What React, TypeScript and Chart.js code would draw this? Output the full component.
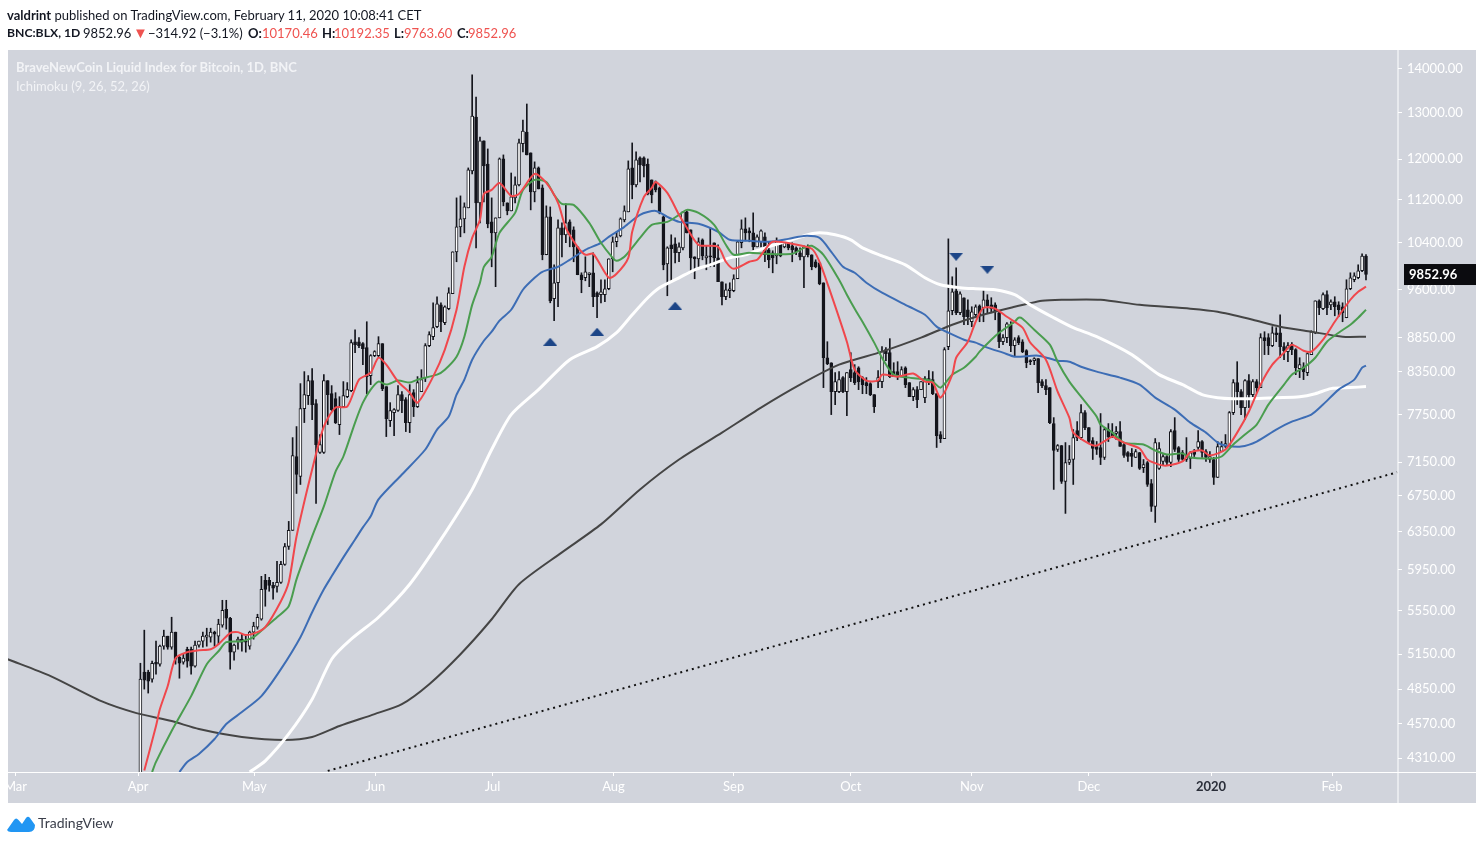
import React, { useEffect, useRef } from "react";
import { Chart, registerables } from "chart.js";

Chart.register(...registerables);

// daily candles, index 0 = 2 Apr 2019
const opens = [
  4150,4993,4993,4934,5079,5062,5220,5310,5211,5347,
  5122,5080,5193,5193,5045,5229,5265,5301,5301,5347,
  5310,5411,5560,5475,5167,5265,5283,5265,5220,5347,
  5392,5466,5842,5842,5792,5782,5822,6004,6190,6362,
  7219,6976,7835,8010,8219,7902,7269,7269,8219,8037,
  7969,7624,7862,7996,8079,8784,8784,8755,8695,8289,
  8577,8577,8755,8135,7676,7782,7809,8024,7956,7650,
  8051,7862,8065,8261,8725,8860,9013,9355,9074,9293,
  9535,10243,10690,10836,11042,11762,12898,11137,12380,11902,
  10781,10580,10855,12005,11137,10985,11232,11484,12320,12570,
  12130,11347,11822,11425,10191,10873,9453,9715,10672,10545,
  10781,10635,10331,9849,9798,9849,9882,9551,9519,9519,
  9616,10121,10420,10525,10818,10967,11822,11484,12026,12026,
  11902,11582,11542,11425,10873,10035,10366,10384,10226,10313,
  10967,10635,10156,10121,10455,10138,10173,10402,10138,9732,
  9486,9583,9583,9782,10402,10653,10617,10580,10331,10420,
  10508,10278,10226,10173,10402,10331,10384,10349,10313,10226,
  10156,10331,10191,10070,10052,9715,8547,8474,8065,8065,
  8261,8065,8374,8332,8402,8261,8191,8177,8024,8205,
  8205,8665,8621,8346,8346,8275,8402,8191,7996,8093,
  8093,7983,8247,8233,8037,7495,7444,8710,9261,9583,
  9229,9470,9277,9089,9198,9339,9309,9437,9355,9355,
  9229,8784,8845,9043,8725,8845,8784,8650,8504,8504,
  8533,8205,8149,8121,7637,7306,7356,6918,7145,7182,
  7546,7456,7782,7585,7418,7343,7331,7207,7559,7520,
  7508,7533,7368,7269,7257,7207,7269,7084,7145,6894,
  6629,7072,7158,7219,7145,7546,7331,7269,7182,7194,
  7281,7331,7406,7281,7182,7182,6964,7281,7343,7343,
  7782,8191,8065,7849,8219,8024,8205,8121,8845,8845,
  8725,8920,8920,8710,8636,8740,8665,8388,8416,8332,
  8592,8920,9420,9293,9519,9355,9405,9355,9325,9151,
  9616,9765,9798,9916,10170.46,
];
const highs = [
  5070,5365,5010,5088,5265,5229,5365,5310,5485,5347,
  5130,5149,5211,5211,5265,5265,5347,5383,5383,5356,
  5466,5646,5646,5485,5238,5301,5329,5310,5356,5438,
  5513,5882,5902,5872,5822,6035,6035,6222,6461,7456,
  7598,8177,8346,8290,8388,7956,7495,8303,8219,8149,
  8051,7996,8205,8191,8814,8966,8845,8770,9089,8592,
  8650,8860,8755,8135,7915,7835,8149,8065,7983,8163,
  8093,8275,8374,8755,8935,9388,9486,9388,9339,9633,
  10243,11232,11270,11137,11822,13860,13345,12463,12380,12212,
  11232,10855,12026,12088,11137,11720,11642,12422,12831,13187,
  12130,11945,11842,11484,11080,11060,10018,10818,10763,11118,
  10818,10690,10331,9882,10156,9882,10226,9567,9765,9765,
  10121,10508,10600,10855,11080,11965,12338,12150,12046,12046,
  12005,11582,11562,11444,10892,10331,10545,10490,10402,10967,
  10985,10635,10156,10490,10472,10349,10672,10402,10366,9732,
  9699,9715,9849,10437,10818,10855,10672,10948,10545,10635,
  10580,10420,10261,10490,10437,10402,10402,10402,10331,10313,
  10349,10366,10191,10104,10052,9715,8784,8474,8332,8346,
  8275,8332,8621,8446,8416,8275,8261,8191,8024,8360,
  8710,8695,8830,8474,8489,8416,8416,8191,8121,8135,
  8205,8275,8360,8346,8037,7533,8695,10472,9815,9967,
  9567,9470,9437,9325,9355,9355,9583,9519,9470,9388,
  9261,8890,9074,9089,8845,8875,8814,8665,8518,8547,
  8533,8233,8233,8121,7715,7368,7356,7393,7356,7559,
  7663,7889,7809,7585,7456,7406,7769,7585,7637,7637,
  7598,7663,7393,7281,7318,7306,7269,7182,7158,6941,
  7444,7393,7244,7231,7559,7715,7343,7294,7456,7281,
  7306,7546,7418,7306,7281,7207,7406,7406,7495,7796,
  8233,8489,8093,8233,8303,8233,8233,8905,8935,8905,
  9013,8997,9198,8770,8770,8770,8680,8547,8474,8621,
  8950,9420,9437,9551,9583,9437,9486,9405,9388,9765,
  9882,9882,10018,10208,10192.35,
];
const lows = [
  4120,4851,4818,4909,4976,5045,5193,5193,5193,5062,
  4942,5062,5036,4976,5036,5211,5211,5220,5256,5220,
  5238,5392,5374,5019,5096,5193,5175,5167,5193,5283,
  5374,5457,5589,5734,5656,5724,5812,5994,6159,6362,
  6777,6882,7650,7889,7689,6662,7257,7257,7624,7809,
  7637,7495,7849,7983,8065,8621,8695,8446,8037,8163,
  8562,8562,8079,7469,7598,7482,7796,7782,7533,7520,
  7729,7849,8065,8205,8710,8814,8997,8935,9043,9277,
  9535,10070,10509,10580,11042,11702,10313,10763,11156,10672,
  9984,9650,10855,11080,10911,10985,11137,11464,12150,12088,
  11004,11156,11405,10104,10191,9388,9105,9325,10156,10402,
  10331,10070,9849,9551,9748,9650,9325,9151,9388,9405,
  9600,9899,10331,10508,10781,10967,11214,11444,11542,11642,
  11290,11137,11347,10930,9933,9502,9732,10052,10070,10278,
  10580,9882,9782,9984,10104,9933,9984,9984,9732,9355,
  9437,9470,9567,9782,10313,10437,10420,10278,10331,10331,
  10070,9967,9882,10035,10156,10313,10278,10070,10191,10104,
  9633,10156,9933,9967,9682,8121,8446,7755,7889,8051,
  8051,7742,8205,8163,8093,8037,8037,8010,7782,8121,
  8121,8504,8261,8275,8233,8275,8121,7996,7942,7849,
  8093,7915,8163,8024,7331,7393,7444,8665,9198,9198,
  9198,9043,9043,9013,9151,9089,9089,9229,9229,9120,
  8695,8740,8770,8636,8562,8740,8621,8402,8446,8446,
  8051,8121,8024,7637,6824,7281,6894,6550,7120,6882,
  7418,7431,7559,7381,7182,7244,7120,7182,7406,7456,
  7431,7343,7207,7158,7096,7207,7060,7024,6859,6572,
  6450,7060,7120,7120,7096,7281,7158,7170,7158,7072,
  7219,7306,7207,7158,7145,6882,6964,7281,7331,7343,
  7755,7889,7755,7689,7849,7996,8051,8121,8592,8592,
  8710,8784,8547,8518,8489,8592,8303,8261,8233,8289,
  8592,8905,9198,9277,9198,9277,9182,9167,9089,9151,
  9600,9732,9782,9899,9763.6,
];
const closes = [
  4934,4926,4917,5070,5062,5220,5310,5211,5347,5105,
  5071,5114,5088,5045,5229,5265,5310,5320,5347,5329,
  5420,5551,5475,5167,5229,5283,5256,5256,5347,5402,
  5485,5753,5753,5792,5763,5822,6004,6190,6362,7231,
  7000,7835,8024,8219,7889,7368,7368,8219,8024,7822,
  7650,7862,8010,8093,8770,8739,8725,8680,8275,8577,
  8636,8755,8107,7702,7809,7822,8024,7942,7650,8024,
  7862,8191,8233,8725,8890,8997,9372,9089,9323,9551,
  10243,10690,10836,11060,11782,12920,11137,12380,11862,10745,
  10580,10855,12005,11156,10985,11250,11484,12340,12592,12088,
  11347,11822,11405,10191,10873,9420,9715,10672,10545,10763,
  10545,10331,9849,9765,9899,9882,9486,9486,9567,9616,
  10121,10420,10508,10836,10985,11802,11484,11985,11883,11862,
  11309,11290,11386,10948,10018,10313,10296,10226,10331,10967,
  10580,10138,10121,10420,10173,10173,10156,10138,9732,9486,
  9600,9616,9782,10420,10653,10580,10580,10331,10508,10617,
  10191,10104,10138,10420,10173,10402,10313,10278,10243,10156,
  10331,10191,9984,9984,9699,8547,8460,8065,8205,8233,
  8065,8332,8261,8191,8205,8163,8149,8024,7862,8261,
  8636,8607,8275,8275,8289,8374,8163,7996,8093,7956,
  8205,8247,8205,8037,7482,7444,8665,9261,9567,9229,
  9535,9167,9167,9245,9325,9182,9437,9339,9293,9245,
  8784,8845,9058,8725,8814,8770,8636,8474,8489,8533,
  8191,8149,8093,7650,7294,7356,6918,7145,7182,7456,
  7456,7782,7585,7406,7318,7306,7207,7559,7469,7469,
  7533,7343,7231,7219,7219,7281,7072,7120,6882,6629,
  7393,7318,7219,7145,7533,7306,7182,7182,7244,7269,
  7244,7406,7269,7207,7219,6964,7343,7343,7381,7782,
  8191,8065,7849,8219,8024,8205,8121,8845,8799,8725,
  8920,8890,8710,8650,8725,8665,8402,8446,8346,8607,
  8935,9420,9309,9519,9309,9405,9325,9277,9229,9616,
  9798,9832,9916,10168,9852.96,
];

const candleDays = opens.map((_, i) => i);

// moving averages at the bends
const redDays = [1,4,5,7,9,12,15,18,20,23,25,27,30,32,36,38,40,44,47,50,53,56,59,61,63,66,69,71,75,78,81,83,85,87,88,90,92,95,97,101,104,107,109,112,114,116,120,122,125,126,129,131,132,135,138,140,143,148,150,152,156,158,160,162,167,172,174,177,181,183,186,189,190,194,198,201,203,205,208,209,212,214,216,219,222,226,228,232,235,238,239,243,245,249,250,252,256,258,261,263,267,269,272,274,278,281,284,287,290,293,295,298,300,303,306,310,312,314];
const redValues = [4220,4555,4688,4876,5114,5167,5184,5193,5238,5338,5347,5320,5347,5392,5637,5822,6297,7060,7598,7849,7862,8233,8332,8547,8446,8205,8051,7915,8275,8665,9277,9984,10490,10818,11309,11386,11522,11270,11309,11702,11522,11137,10672,10331,10191,10208,9798,9866,10138,10600,11250,11425,11542,11328,10911,10672,10366,10331,10070,9950,10070,10104,10278,10420,10384,10296,10070,9519,8784,8374,8219,8219,8303,8275,8318,8205,8191,7983,8303,8547,8784,9089,9309,9293,9167,8997,8770,8518,8065,7715,7520,7381,7356,7469,7444,7393,7318,7182,7120,7108,7158,7269,7294,7231,7306,7520,7796,8163,8446,8621,8740,8650,8636,8814,9089,9437,9567,9650];

const greenDays = [3,4,8,13,17,20,22,26,29,32,35,38,40,44,47,50,52,55,57,59,61,63,66,69,71,76,78,81,83,85,87,88,90,92,96,98,101,104,106,108,111,115,118,121,122,124,128,131,135,138,140,143,147,150,152,156,160,167,170,172,175,179,181,183,185,188,190,193,197,201,203,205,208,211,214,215,218,220,224,225,226,229,233,235,238,241,245,246,249,252,257,260,263,267,269,274,277,280,283,286,289,293,295,298,301,304,307,310,312,314];
const greenValues = [4210,4283,4516,4793,5062,5175,5256,5265,5301,5392,5485,5589,5852,6297,6629,7036,7219,7650,7915,8093,8205,8163,8219,8191,8233,8303,8374,8562,8860,9355,9715,9984,10156,10580,10948,11386,11582,11542,11290,11118,11099,10763,10402,10138,10087,10156,10490,10726,10781,10911,11004,10948,10726,10366,10191,10226,10208,10208,10313,10349,10191,9765,9519,9293,9089,8770,8547,8303,8261,8233,8205,8121,8303,8402,8562,8636,8814,8920,9089,9151,9136,8966,8740,8489,8205,7996,7729,7624,7520,7393,7368,7294,7244,7257,7207,7194,7219,7368,7495,7624,7889,8163,8303,8402,8547,8784,8920,9043,9151,9277];

const blueDays = [10,12,15,19,22,26,31,36,41,44,47,49,52,55,57,59,61,67,73,76,79,81,83,85,88,90,92,95,98,101,103,107,110,114,118,120,124,128,132,135,138,143,148,151,156,161,166,170,174,177,180,183,186,190,197,201,204,207,211,214,217,221,224,230,235,238,241,245,251,256,260,265,269,273,276,278,282,286,291,295,300,303,307,311,313,314];
const blueValues = [4210,4283,4342,4454,4570,4664,4793,5019,5301,5532,5753,5882,6076,6265,6395,6517,6708,7000,7306,7559,7729,8024,8233,8518,8799,8935,9105,9277,9600,9798,9899,9984,10104,10278,10402,10508,10690,10911,10985,10873,10781,10745,10600,10455,10437,10420,10472,10525,10490,10243,9984,9882,9715,9551,9325,9198,9013,8920,8814,8770,8695,8621,8562,8577,8504,8489,8416,8346,8261,8163,7983,7822,7650,7520,7393,7356,7343,7406,7559,7663,7755,7889,8093,8233,8402,8432];

const whiteDays = [28,32,38,44,49,54,61,69,77,85,90,95,102,110,117,122,126,130,133,138,142,146,151,155,160,166,171,174,178,182,185,190,196,201,205,210,214,219,224,228,234,239,245,254,261,267,272,276,280,285,291,297,301,305,310,314];
const whiteValues = [4210,4291,4493,4768,5105,5283,5485,5803,6265,6824,7306,7755,8093,8518,8710,8920,9198,9470,9633,9798,9933,10018,10138,10191,10313,10437,10545,10580,10545,10455,10313,10173,10018,9798,9682,9633,9616,9600,9519,9355,9151,8997,8860,8592,8303,8163,8024,7983,7969,7969,7983,7996,8037,8107,8121,8135];

const darkDays = [-34,-23,-10,-1,8,15,26,37,44,51,60,67,74,82,90,97,108,118,128,138,149,159,169,179,190,200,208,215,223,231,236,246,256,269,276,285,292,300,308,314];
const darkValues = [5105,4960,4752,4656,4593,4531,4470,4447,4470,4554,4648,4728,4892,5149,5466,5803,6128,6428,6824,7182,7520,7849,8163,8446,8636,8845,9043,9182,9309,9420,9437,9437,9355,9293,9245,9120,9013,8935,8860,8860];

const trendDays = [48, 322];
const trendValues = [4218, 7027];

const upMarkDays = [105, 117, 137];
const upMarkValues = [8784, 8935, 9341];
const downMarkDays = [209, 217];
const downMarkValues = [10156, 9933];

const priceTicks = [14000,13000,12000,11200,10400,9600,8850,8350,7750,7150,6750,6350,5950,5550,5150,4850,4570,4310];
const monthLabels = ["Mar","Apr","May","Jun","Jul","Aug","Sep","Oct","Nov","Dec","2020","Feb"];
const monthDays = [-32,-0.6,29.2,60.2,90.2,121.2,152,182,213,243,274.3,305.3];

const lastClose = 9852.96;

const pts = (xs: number[], ys: number[]) => xs.map((x, i) => ({ x, y: ys[i] }));

function triangle(down: boolean) {
  const c = document.createElement("canvas");
  c.width = 14;
  c.height = 8;
  const g = c.getContext("2d")!;
  g.fillStyle = "#1c4587";
  g.beginPath();
  if (down) {
    g.moveTo(0, 0); g.lineTo(14, 0); g.lineTo(7, 8);
  } else {
    g.moveTo(0, 8); g.lineTo(14, 8); g.lineTo(7, 0);
  }
  g.fill();
  return c;
}

const panel = {
  id: "panel",
  beforeDraw(chart: any) {
    const g = chart.ctx;
    g.save();
    g.fillStyle = "#d1d4dc";
    g.fillRect(8, 50, 1468, 753);
    g.restore();
  },
  afterDraw(chart: any) {
    const g = chart.ctx;
    const y = chart.scales.y.getPixelForValue(lastClose);
    g.save();
    g.fillStyle = "#ffffff";
    g.fillRect(8, 772, 1468, 1);
    g.fillRect(1397.5, 50, 1, 753);
    g.fillStyle = "#0b0b0f";
    g.fillRect(1404, y - 10.5, 72, 21);
    g.fillStyle = "#ffffff";
    g.font = "bold 13px Lato";
    g.textBaseline = "middle";
    g.fillText(lastClose.toFixed(2), 1409, y + 0.5);
    g.restore();
  },
};

function MainChart() {
  const ref = useRef<HTMLCanvasElement | null>(null);

  useEffect(() => {
    if (!ref.current) return;
    const isUp = opens.map((o, i) => closes[i] >= o);
    const line = (label: string, xs: number[], ys: number[], color: string, width: number, order: number) => ({
      type: "line" as const,
      label,
      data: pts(xs, ys),
      borderColor: color,
      borderWidth: width,
      pointRadius: 0,
      tension: 0.25,
      order,
    });
    const chart = new Chart(ref.current, {
      type: "bar",
      data: {
        datasets: [
          {
            label: "wick",
            data: candleDays.map((d, i) => ({ x: d, y: [lows[i], highs[i]] })) as any,
            backgroundColor: "#14151c",
            barThickness: 1,
            grouped: false,
            order: 20,
          },
          {
            label: "body",
            data: candleDays.map((d, i) => ({ x: d, y: [Math.min(opens[i], closes[i]), Math.max(opens[i], closes[i])] })) as any,
            backgroundColor: isUp.map((u) => (u ? "#ffffff" : "#14151c")),
            borderColor: "#14151c",
            borderWidth: 1,
            borderSkipped: false,
            barThickness: 3,
            grouped: false,
            order: 19,
          },
          line("200", darkDays, darkValues, "#454545", 2, 8),
          line("100", whiteDays, whiteValues, "#ffffff", 3, 7),
          line("50", blueDays, blueValues, "#3d6db5", 2, 6),
          line("21", greenDays, greenValues, "#4a9d4f", 2, 5),
          line("10", redDays, redValues, "#f0474c", 2, 4),
          {
            type: "line" as const,
            label: "trend",
            data: pts(trendDays, trendValues),
            borderColor: "#111111",
            borderWidth: 2,
            borderDash: [2, 4],
            pointRadius: 0,
            order: 9,
          },
          {
            type: "scatter" as const,
            label: "up",
            data: pts(upMarkDays, upMarkValues),
            pointStyle: triangle(false),
            order: 1,
          },
          {
            type: "scatter" as const,
            label: "down",
            data: pts(downMarkDays, downMarkValues),
            pointStyle: triangle(true),
            order: 1,
          },
        ] as any,
      },
      options: {
        responsive: false,
        animation: false,
        events: [],
        layout: { padding: { left: 8, top: 50, right: 8, bottom: 41 } },
        plugins: { legend: { display: false }, tooltip: { enabled: false }, title: { display: false } },
        scales: {
          x: {
            type: "linear",
            offset: false,
            min: -33.92,
            max: 322.2,
            border: { display: false },
            grid: { offset: false, drawOnChartArea: false, tickLength: 4, color: "#ffffff" },
            afterBuildTicks: (s: any) => {
              s.ticks = monthDays.map((value) => ({ value }));
            },
            afterFit: (s: any) => {
              s.height = 31;
            },
            ticks: {
              autoSkip: false,
              maxRotation: 0,
              padding: 3,
              font: (c: any) => ({ family: "Lato", size: 13, weight: c.tick && c.tick.label === "2020" ? "bold" : "normal" }),
              color: (c: any) => (c.tick && c.tick.label === "2020" ? "#2a2e39" : "#ffffff"),
              callback: (v: any) => monthLabels[monthDays.indexOf(v)],
            },
          },
          y: {
            type: "logarithmic",
            position: "right",
            min: 4210,
            max: 14462,
            border: { display: false },
            grid: { drawOnChartArea: false, tickLength: 4, color: "#ffffff" },
            afterBuildTicks: (s: any) => {
              s.ticks = priceTicks.map((value) => ({ value }));
            },
            afterFit: (s: any) => {
              s.width = 78;
            },
            ticks: {
              autoSkip: false,
              padding: 5,
              font: { family: "Lato", size: 13 },
              color: "#ffffff",
              callback: (v: any) => Number(v).toFixed(2),
            },
          },
        },
      } as any,
      plugins: [panel],
    });
    return () => chart.destroy();
  }, []);

  return <canvas ref={ref} width={1484} height={844} style={{ display: "block", width: 1484, height: 844 }} />;
}

const txt = (left: number, top: number, extra: React.CSSProperties = {}): React.CSSProperties => ({
  position: "absolute",
  left,
  top,
  whiteSpace: "nowrap",
  lineHeight: "16px",
  color: "#131722",
  ...extra,
});
const red = { color: "#ef5350" };
const bold = { fontWeight: 700 };

export default function App() {
  return (
    <div style={{ position: "absolute", left: 0, top: 0, width: 1484, height: 844, overflow: "hidden", background: "#fff", fontFamily: "Lato", fontSize: 13 }}>
      <MainChart />
      <span style={txt(7, 7)}><b>valdrint</b> published on TradingView.com, February 11, 2020 10:08:41 CET</span>
      <span style={txt(7, 25, { ...bold, fontSize: 12.2 })}>BNC:BLX, 1D</span>
      <span style={txt(83, 25)}>9852.96</span>
      <span style={txt(133, 24, { ...red, fontSize: 15 })}>▼</span>
      <span style={txt(148, 25)}>−314.92 (−3.1%)</span>
      <span style={txt(248, 25, bold)}>O:</span>
      <span style={txt(262, 25, red)}>10170.46</span>
      <span style={txt(322, 25, bold)}>H:</span>
      <span style={txt(334, 25, red)}>10192.35</span>
      <span style={txt(394, 25, bold)}>L:</span>
      <span style={txt(404, 25, red)}>9763.60</span>
      <span style={txt(457, 25, bold)}>C:</span>
      <span style={txt(468, 25, red)}>9852.96</span>
      <span style={txt(16, 59, { color: "#f2f3f6", fontWeight: 700 })}>BraveNewCoin Liquid Index for Bitcoin, 1D, BNC</span>
      <span style={txt(16, 78, { color: "#f2f3f6" })}>Ichimoku (9, 26, 52, 26)</span>
      <svg style={{ position: "absolute", left: 7, top: 815 }} width="28" height="18" viewBox="0 0 28 18">
        <path d="M0 15 L7 5 Q9 2 11.5 5 L15 9 L19 3 Q21 0.5 23 3 L28 10 Q28 17 22 17 L4 17 Q1 17 0 15 Z" fill="#2196f3" />
      </svg>
      <span style={txt(38, 815, { fontSize: 14, color: "#3a3e4a" })}>TradingView</span>
    </div>
  );
}
